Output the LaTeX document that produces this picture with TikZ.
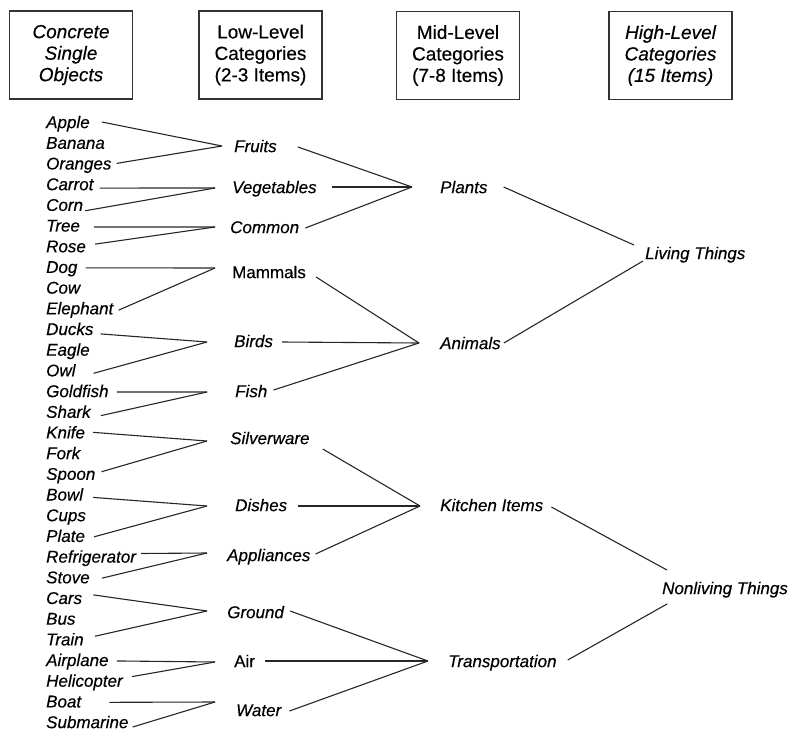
\documentclass[tikz,border=0pt]{standalone}
\usepackage{fontspec}
\setmainfont{Liberation Sans}[UprightFeatures={FakeBold=0.35},ItalicFeatures={FakeBold=0.35}]
\begin{document}
\begin{tikzpicture}[x=1pt,y=-1pt,
  hdr/.style={draw=black!80, line width=1.2pt, minimum width=123pt, minimum height=88pt,
    align=center, inner sep=0pt, font=\fontsize{19}{21.5}\selectfont},
  hdrit/.style={hdr, font=\fontsize{19}{21.5}\selectfont\itshape},
  lbl/.style={anchor=west, inner sep=0pt, text height=12.2pt, text depth=0pt,
    font=\fontsize{17}{20}\selectfont},
  it/.style={lbl, font=\fontsize{17}{20}\selectfont\itshape},
  link/.style={draw=black!85, line width=1.1pt},
]
\useasboundingbox (0,0) rectangle (792,731);

% column headings
\node[hdrit] (h1) at (71,55)    {Concrete\\Single\\Objects};
\node[hdr]   (h2) at (260.5,55) {Low-Level\\Categories\\(2-3 Items)};
\node[hdr]   (h3) at (458,55.5) {Mid-Level\\Categories\\(7-8 Items)};
\node[hdrit] (h4) at (670.5,55.5) {High-Level\\Categories\\(15 Items)};

% concrete single objects
\foreach \name/\txt [count=\i from 0] in {
  apple/Apple, banana/Banana, oranges/Oranges, carrot/Carrot, corn/Corn,
  tree/Tree, rose/Rose, dog/Dog, cow/Cow, elephant/Elephant,
  ducks/Ducks, eagle/Eagle, owl/Owl, goldfish/Goldfish, shark/Shark,
  knife/Knife, fork/Fork, spoon/Spoon, bowl/Bowl, cups/Cups,
  plate/Plate, refrigerator/Refrigerator, stove/Stove, cars/Cars, bus/Bus,
  train/Train, airplane/Airplane, helicopter/Helicopter, boat/Boat, submarine/Submarine}
  \node[it] (\name) at (46,{122+20.69*\i}) {\txt};

% low-level categories
\node[it]  (fruits)     at (234,146) {Fruits};
\node[it]  (vegetables) at (232,187) {Vegetables};
\node[it]  (common)     at (230,227) {Common};
\node[lbl] (mammals)    at (232,272) {Mammals};
\node[it]  (birds)      at (234,341) {Birds};
\node[it]  (fish)       at (235,391) {Fish};
\node[it]  (silverware) at (230,438) {Silverware};
\node[it]  (dishes)     at (235,505) {Dishes};
\node[it]  (appliances) at (227,555) {Appliances};
\node[it]  (ground)     at (227,612) {Ground};
\node[lbl] (air)        at (234,661) {Air};
\node[it]  (water)      at (236,710) {Water};

% mid-level categories
\node[it] (plants)    at (440,187) {Plants};
\node[it] (animals)   at (440,343) {Animals};
\node[it] (kitchen)   at (440,505) {Kitchen Items};
\node[it] (transport) at (448,661) {Transportation};

% high-level categories
\node[it] (living)    at (645,253) {Living Things};
\node[it] (nonliving) at (662,588) {Nonliving Things};

% meeting points of the branches
\coordinate (fruits-in)     at (222,146);
\coordinate (vegetables-in) at (215,188);
\coordinate (common-in)     at (215,227);
\coordinate (mammals-in)    at (215,268);
\coordinate (birds-in)      at (207,342);
\coordinate (fish-in)       at (207,392);
\coordinate (silverware-in) at (207,441);
\coordinate (dishes-in)     at (207,506);
\coordinate (appliances-in) at (207,553);
\coordinate (ground-in)     at (207,611);
\coordinate (air-in)        at (215,662);
\coordinate (water-in)      at (215,702);
\coordinate (plants-in)     at (412,187);
\coordinate (animals-in)    at (419,343);
\coordinate (kitchen-in)    at (420,506);
\coordinate (transport-in)  at (428,661);
\coordinate (living-in-a)   at (634,245);
\coordinate (living-in-b)   at (643,261);
\coordinate (nonliving-in-a) at (667,570);
\coordinate (nonliving-in-b) at (667,604);

% branches: source / gap / vertical offset / target
\foreach \s/\g/\v/\t in {
  apple/12/0/fruits, oranges/5/0/fruits,
  carrot/6/4/vegetables, corn/2/6/vegetables,
  tree/14/1.5/common, rose/9/-2/common,
  dog/8/1/mammals, elephant/5/2/mammals,
  ducks/7/5/birds, owl/18/3/birds,
  goldfish/8/1/fish, shark/10/4/fish,
  knife/8/0/silverware, spoon/6/-2/silverware,
  bowl/10/3/dishes, plate/9/1/dishes,
  refrigerator/5/-3/appliances, stove/12/1/appliances,
  cars/11/-3/ground, train/11/-3/ground,
  airplane/8/1/air, helicopter/9/-4/air,
  boat/28/1/water, submarine/4/5/water,
  fruits/21/1/plants, vegetables/15/0/plants, common/6/1/plants,
  mammals/10/5/animals, birds/9/1/animals, fish/6/-1/animals,
  silverware/13/11/kitchen, dishes/11/1/kitchen, appliances/5/-1/kitchen,
  ground/6/-1/transport, air/10/0/transport, water/8/1/transport}
  \draw[link] ([shift={(\g,\v)}]\s.east) -- (\t-in);

\draw[link] ([shift={(16,0)}]plants.east)    -- (living-in-a);
\draw[link] ([shift={(3,0)}]animals.east)    -- (living-in-b);
\draw[link] ([shift={(8,2)}]kitchen.east)    -- (nonliving-in-a);
\draw[link] ([shift={(11,-1)}]transport.east) -- (nonliving-in-b);
\end{tikzpicture}
\end{document}
